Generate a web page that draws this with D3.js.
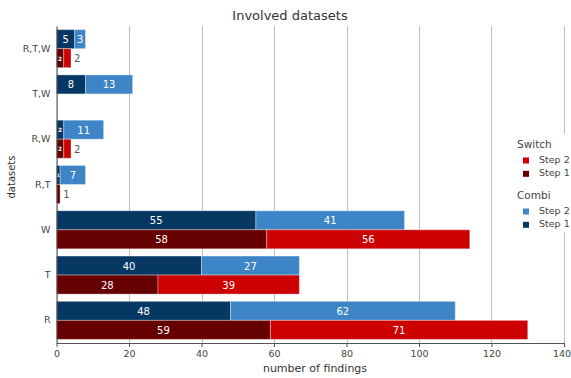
<!DOCTYPE html>
<html>
<head>
<meta charset="utf-8">
<script src="https://cdn.jsdelivr.net/npm/d3@7"></script>
<style>
  html, body { margin: 0; padding: 0; background: #fff; }
  svg { display: block; font-family: "DejaVu Sans", Verdana, sans-serif; }
</style>
</head>
<body>
<svg id="chart" width="571" height="378"></svg>
<script>
// ---- data ----
const categories = ["R", "T", "W", "R,T", "R,W", "T,W", "R,T,W"];
const combiStep1 = [48, 40, 55, 1, 2, 8, 5];
const combiStep2 = [62, 27, 41, 7, 11, 13, 3];
const switchStep1 = [59, 28, 58, 1, 2, 0, 2];
const switchStep2 = [71, 39, 56, 0, 2, 0, 2];
const xTicks = [0, 20, 40, 60, 80, 100, 120, 140];
const groups = ["Combi", "Switch"];

const colors = {
  combi1: "#073763", combi2: "#3d85c6",
  switch1: "#660000", switch2: "#cc0000"
};

const svg = d3.select("#chart");
const plotLeft = 56.5, plotRight = 564, plotTop = 26, plotBottom = 343;

const x = d3.scaleLinear().domain([0, 140]).range([plotLeft, plotRight]);
const y = d3.scaleBand().domain(categories).range([plotBottom, plotTop]);
const sub = d3.scaleBand().domain(groups).range([0, y.bandwidth()]).paddingOuter(0.19).paddingInner(0);

// gridlines
svg.append("g").selectAll("line").data(xTicks).join("line")
  .attr("x1", d => Math.round(x(d)) + 0.5).attr("x2", d => Math.round(x(d)) + 0.5)
  .attr("y1", plotTop).attr("y2", plotBottom)
  .attr("stroke", "#bdbdbd").attr("stroke-width", 1);

// build stacked segments
const segs = [];
categories.forEach((c, i) => {
  const rows = [
    { g: "Combi", vals: [combiStep1[i], combiStep2[i]], cols: [colors.combi1, colors.combi2] },
    { g: "Switch", vals: [switchStep1[i], switchStep2[i]], cols: [colors.switch1, colors.switch2] }
  ];
  rows.forEach(r => {
    let acc = 0;
    const lastNZ = r.vals[1] > 0 ? 1 : (r.vals[0] > 0 ? 0 : -1);
    r.vals.forEach((v, k) => {
      if (v > 0) {
        segs.push({ cat: c, g: r.g, x0: acc, x1: acc + v, v, color: r.cols[k], last: k === lastNZ });
      }
      acc += v;
    });
  });
});

const barG = svg.append("g");
barG.selectAll("rect").data(segs).join("rect")
  .attr("x", d => x(d.x0))
  .attr("width", d => x(d.x1) - x(d.x0))
  .attr("y", d => y(d.cat) + sub(d.g))
  .attr("height", sub.bandwidth())
  .attr("fill", d => d.color)
  .attr("stroke", "rgba(255,255,255,0.35)")
  .attr("stroke-width", 1);

// labels
const lblG = svg.append("g");
segs.forEach(d => {
  const w = x(d.x1) - x(d.x0);
  const cy = y(d.cat) + sub(d.g) + sub.bandwidth() / 2;
  const t = lblG.append("text")
    .attr("font-size", 10)
    .attr("dominant-baseline", "central")
    .text(d.v);
  const tw = t.node().getComputedTextLength();
  if (tw + 3 <= w) {
    t.attr("x", x(d.x0) + w / 2).attr("y", cy + 0.5).attr("text-anchor", "middle").attr("fill", "#fff");
  } else if (d.last) {
    t.attr("x", x(d.x1) + 3).attr("y", cy + 0.5).attr("text-anchor", "start").attr("fill", "#555");
  } else {
    const fs = Math.max(4.5, 10 * (w - 3.5) / tw);
    t.attr("font-size", fs).attr("font-weight", "bold")
      .attr("x", x(d.x0) + w / 2).attr("y", cy + 0.5).attr("text-anchor", "middle").attr("fill", "#fff");
  }
});

// x axis
const xAxis = svg.append("g").attr("transform", `translate(0,${plotBottom})`)
  .call(d3.axisBottom(x).tickValues(xTicks).tickSize(4).tickPadding(3).tickSizeOuter(0));
xAxis.select(".domain").attr("stroke", "#555");
xAxis.selectAll(".tick line").attr("stroke", "#555");
xAxis.selectAll(".tick text").attr("font-size", 9.5).attr("fill", "#444")
  .attr("font-family", "DejaVu Sans, Verdana, sans-serif")
  .attr("dx", d => d === 140 ? -2.5 : 0);

// y axis
const yAxis = svg.append("g").attr("transform", `translate(${plotLeft},0)`)
  .call(d3.axisLeft(y).tickSize(0).tickPadding(6).tickSizeOuter(0));
yAxis.select(".domain").attr("stroke", "#555");
yAxis.selectAll(".tick text").attr("font-size", 9.5).attr("fill", "#444")
  .attr("font-family", "DejaVu Sans, Verdana, sans-serif");

// titles
svg.append("text").attr("x", 290).attr("y", 20).attr("text-anchor", "middle")
  .attr("font-size", 13).attr("fill", "#333").text("Involved datasets");
svg.append("text").attr("x", 315).attr("y", 372).attr("text-anchor", "middle")
  .attr("font-size", 11).attr("fill", "#333").text("number of findings");
svg.append("text").attr("transform", "translate(15,177) rotate(-90)").attr("text-anchor", "middle")
  .attr("font-size", 10).attr("fill", "#333").text("datasets");

// legend
const legendGroups = ["Switch", "Combi"];
const legendItems = [
  [{ label: "Step 2", color: colors.switch2 }, { label: "Step 1", color: colors.switch1 }],
  [{ label: "Step 2", color: colors.combi2 }, { label: "Step 1", color: colors.combi1 }]
];
const lg = svg.append("g");
lg.append("rect").attr("x", 510).attr("y", 134).attr("width", 61).attr("height", 98).attr("fill", "#fff");
legendGroups.forEach((g, gi) => {
  const baseY = 148 + gi * 51;
  lg.append("text").attr("x", 517).attr("y", baseY).attr("font-size", 10.5).attr("fill", "#444").text(g);
  legendItems[gi].forEach((it, k) => {
    const yy = baseY + 15 + k * 13.3;
    lg.append("rect").attr("x", 523).attr("y", yy - 5.5).attr("width", 6).attr("height", 6).attr("fill", it.color);
    lg.append("text").attr("x", 539).attr("y", yy).attr("font-size", 9.5).attr("fill", "#444").text(it.label);
  });
});
</script>
</body>
</html>
